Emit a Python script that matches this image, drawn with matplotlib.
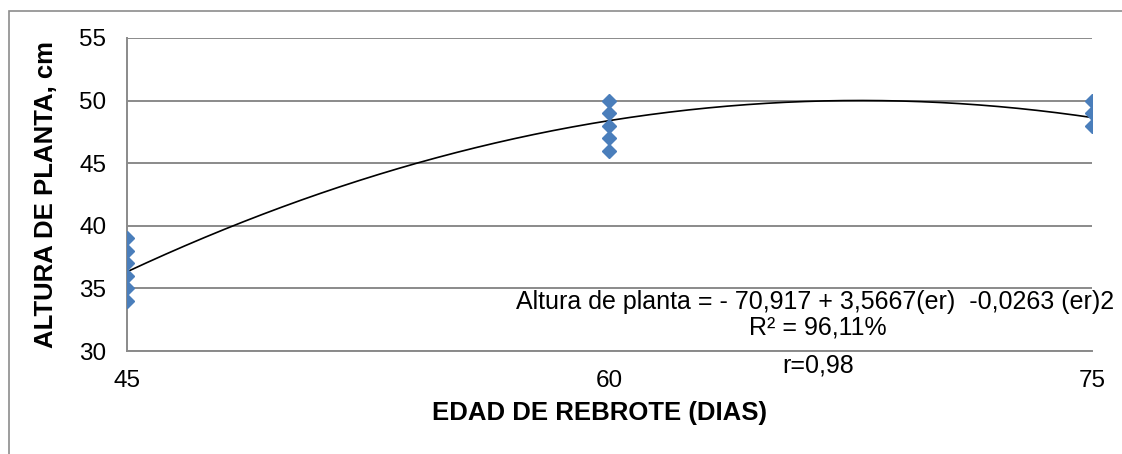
import numpy as np
import matplotlib
matplotlib.use("Agg")
import matplotlib.pyplot as plt
from matplotlib.patches import Rectangle

plt.rcParams['font.family'] = ['Liberation Sans', 'DejaVu Sans']

# Observed plant heights by regrowth age
edad = [45, 45, 45, 45, 45, 45, 60, 60, 60, 60, 60, 75, 75, 75]
altura = [34, 35, 36, 37, 38, 39, 46, 47, 48, 49, 50, 48, 49, 50]

# Quadratic fit coefficients
b0, b1, b2 = -70.917, 3.5667, -0.0263

x_ticks = [45, 60, 75]
y_ticks = [30, 35, 40, 45, 50, 55]

W, H = 1122, 454
fig = plt.figure(figsize=(W / 100, H / 100), dpi=100)
fig.patches.append(Rectangle((9 / W, -0.1), 1.2, 1 - 11 / H + 0.1,
                             transform=fig.transFigure, fill=False,
                             edgecolor='#8c8c8c', linewidth=1.2))

ax = fig.add_axes([127 / W, 1 - 351 / H, (1092 - 127) / W, (351 - 38) / H])

grid_c = '#8a8a8a'
for y in y_ticks:
    ax.axhline(y, color=grid_c, linewidth=1.4, zorder=1)

xs = np.linspace(45, 75, 300)
ax.plot(xs, b0 + b1 * xs + b2 * xs ** 2, color='black', linewidth=1.2, zorder=2)
ax.plot(edad, altura, linestyle='none', marker='D', markersize=7.4,
        color='#4a7ebb', markeredgecolor='#4a7ebb', zorder=3)

ax.set_xlim(45, 75)
ax.set_ylim(30, 55)
ax.set_xticks(x_ticks)
ax.set_yticks(y_ticks)
ax.tick_params(axis='both', length=0, labelsize=17.5)
ax.tick_params(axis='x', pad=14)
ax.tick_params(axis='y', pad=15)

for side in ['top', 'right']:
    ax.spines[side].set_visible(False)
for side in ['left', 'bottom']:
    ax.spines[side].set_color(grid_c)
    ax.spines[side].set_linewidth(1.4)
ax.set_facecolor('none')

fig.text(600 / W, 1 - 413 / H, 'EDAD DE REBROTE (DIAS)', fontsize=18.5,
         fontweight='bold', ha='center', va='center')
fig.text(46 / W, 1 - 194 / H, 'ALTURA DE PLANTA, cm', fontsize=18.5,
         fontweight='bold', ha='center', va='center', rotation=90)

fig.text(815 / W, 1 - 302 / H,
         'Altura de planta = - 70,917 + 3,5667(er)  -0,0263 (er)2',
         ha='center', va='center', fontsize=18)
fig.text(818 / W, 1 - 328 / H, 'R² = 96,11%',
         ha='center', va='center', fontsize=18)
fig.text(818 / W, 1 - 365 / H, 'r=0,98',
         ha='center', va='center', fontsize=18)

fig.savefig('out.png', dpi=100)
